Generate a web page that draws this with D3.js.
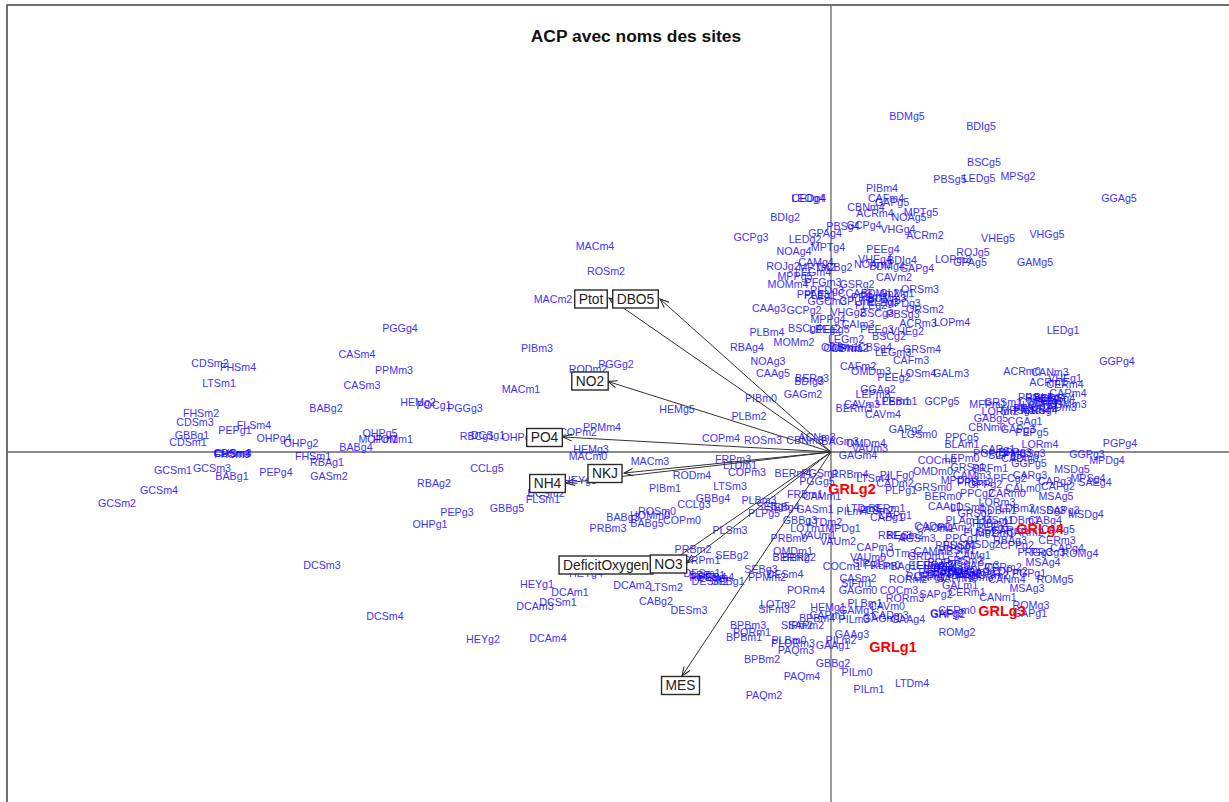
<!DOCTYPE html>
<html><head><meta charset="utf-8">
<script src="https://cdnjs.cloudflare.com/ajax/libs/d3/7.8.5/d3.min.js"></script>
<style>html,body{margin:0;padding:0;background:#fff;overflow:hidden}svg{display:block}text{font-family:"Liberation Sans",Arial,sans-serif}</style>
</head><body><svg id="c" width="1229" height="802"></svg>
<script>
const chartTitle = "ACP avec noms des sites";

const farLeftNames = ["CDSm2","FHSm4","LTSm1","FHSm2","CDSm3","GBBg1","CDSm1","PEPg1","FLSm4","OHPg4","OHPg2","CDSm4","FHSm3","CHSm3","FHSm1","RBAg1","BABg4","OHPg5","MOPm1","HOMm1","BABg2","CASm4","PPMm3","CASm3","HEMg2","POCg1","PGGg3","PGGg4","GCSm1","GCSm3","BABg1","PEPg4","GASm2","GCSm4","GCSm2","DCSm3","DCSm4"];
const farLeftX = [-6.21,-5.93,-6.12,-6.30,-6.36,-6.39,-6.43,-5.96,-5.77,-5.57,-5.30,-5.99,-5.99,-5.98,-5.18,-5.04,-4.75,-4.51,-4.53,-4.38,-5.05,-4.74,-4.37,-4.69,-4.13,-3.97,-3.66,-4.31,-6.58,-6.19,-5.99,-5.55,-5.02,-6.72,-7.14,-5.09,-4.46];
const farLeftY = [0.89,0.85,0.69,0.39,0.30,0.17,0.10,0.22,0.27,0.14,0.09,-0.01,-0.02,-0.01,-0.04,-0.10,0.05,0.19,0.13,0.13,0.44,0.98,0.82,0.67,0.50,0.47,0.44,1.24,-0.18,-0.16,-0.24,-0.20,-0.24,-0.38,-0.51,-1.13,-1.64];

const midLeftNames = ["RBAg2","PEPg3","OHPg1","RBCg1","DCSg1","OHPg3","HEYg2","DCAm4","MACm4","ROSm2","MACm2","PIBm3","RODm2","PGGg2","MACm1","HEMg5","PPMm4","COPm2","HEMg3","MACm0","MACm3","CCLg5","HEYg3","DCSm2","FLSm1","GBBg5","RODm4","PIBm1","ROSm0","HOMm0","BABg5","BABg3","COPm0","PRBm3","PRBm2","HEYg4","LTSm2","DCAm2","CABg2","DESm3","HEYg1","DCAm1","DCSm1","DCAm3","PRPm1"];
const midLeftX = [-3.97,-3.74,-4.01,-3.54,-3.43,-3.12,-3.48,-2.83,-2.36,-2.25,-2.78,-2.94,-2.43,-2.15,-3.10,-1.54,-2.29,-2.53,-2.40,-2.43,-1.81,-3.44,-2.51,-2.85,-2.88,-3.24,-1.39,-1.66,-1.74,-1.81,-1.84,-2.08,-1.49,-2.23,-1.38,-2.45,-1.65,-1.99,-1.75,-1.42,-2.94,-2.61,-2.73,-2.96,-1.29];
const midLeftY = [-0.31,-0.60,-0.72,0.16,0.17,0.15,-1.87,-1.86,2.06,1.81,1.53,1.04,0.83,0.88,0.63,0.43,0.25,0.20,0.03,-0.04,-0.09,-0.16,-0.28,-0.41,-0.47,-0.56,-0.23,-0.36,-0.59,-0.63,-0.71,-0.65,-0.68,-0.76,-0.97,-1.21,-1.35,-1.33,-1.49,-1.58,-1.32,-1.40,-1.50,-1.54,-1.08];

const centerNames = ["PLBm2","PIBm0","COPm4","ROSm3","CBNm3","ACNm3","FRPm3","LTDm1","COPm3","LTSm3","GBBg4","CCLg3","PLBm3","PLPg5","SEBg5","SEBg4","PLSm3","SEBg2","DESm1","SEBm1","RBSm4","PESm4","DESm2","SEBg1","SEBg3","PPMm2","DESm4","PORm4","OMDm1","BERm2","BERg2","PRBm0","LOTm1","GBBg3","BERm4","PGSm1","PGGg5","FRBm1","CAMm1","GASm1","VAUm1","LOTm2","SIFm3","BPBm3","PORm1","BPBm1","SIPm2","SAPm2","PLBm0","PLORm3","PAQm3","BPBm2","PAQm4","PAQm2","BPBm4","HEMg1","CAPm1","GAAg1","GBBg2"];
const centerX = [-0.82,-0.70,-1.10,-0.68,-0.26,-0.14,-0.98,-0.91,-0.84,-1.01,-1.18,-1.37,-0.72,-0.67,-0.58,-0.48,-1.01,-0.99,-1.29,-1.24,-1.23,-1.15,-1.21,-1.03,-0.70,-0.64,-0.46,-0.25,-0.38,-0.40,-0.32,-0.42,-0.23,-0.31,-0.38,-0.11,-0.14,-0.26,-0.09,-0.16,-0.13,-0.53,-0.57,-0.83,-0.79,-0.87,-0.34,-0.25,-0.42,-0.38,-0.35,-0.69,-0.29,-0.67,-0.14,-0.03,-0.03,0.02,0.02];
const centerY = [0.36,0.54,0.14,0.12,0.12,0.15,-0.07,-0.13,-0.20,-0.34,-0.46,-0.52,-0.48,-0.61,-0.54,-0.55,-0.78,-1.03,-1.21,-1.23,-1.25,-1.25,-1.29,-1.29,-1.17,-1.25,-1.22,-1.38,-0.99,-1.05,-1.05,-0.86,-0.76,-0.68,-0.21,-0.21,-0.29,-0.42,-0.44,-0.57,-0.83,-1.52,-1.57,-1.73,-1.80,-1.85,-1.73,-1.73,-1.88,-1.91,-1.98,-2.07,-2.24,-2.43,-1.66,-1.55,-1.63,-1.93,-2.11];

const lowerRightNames = ["GAGm4","PRBm4","LTSm4","PILFg0","CADm2","PLPg1","OMDm0","COCm0","LEPm0","GRSm0","BERm0","CAAg1","PILm4","LTDm3","FLSm2","BERm1","CAPg1","CABg1","LTDm2","MPDg1","VAUm2","RBEg3","RESm2","AGSm3","CADm1","CAOm1","CAPm3","VAUm0","LOTm3","CAMm2","GRDm1","COCm1","SIPg1","FRBm0","PBAg1","EERm1","CASm2","SIFm1","GAGm0","COCm3","RORm3","RORm2","SAPg2","PLBm1","CAVm0","GAMg1","CADm3","PILm3","GAGm1","GAAg4","GAAg3","PILm2","PILm0","PILm1","LTDm4","GAFg2","GHPg2","CERm0","ROMg2"];
const lowerRightX = [0.27,0.19,0.42,0.66,0.64,0.70,1.02,1.06,1.31,1.02,1.12,1.14,0.21,0.32,0.46,0.56,0.64,0.56,-0.06,0.12,0.07,0.64,0.74,0.86,1.02,1.04,0.44,0.37,0.67,1.02,0.96,0.11,0.36,0.51,0.69,0.96,0.27,0.26,0.27,0.68,0.74,0.77,1.05,0.34,0.56,0.26,0.59,0.23,0.51,0.77,0.21,0.10,0.26,0.38,0.81,1.16,1.17,1.26,1.26];
const lowerRightY = [-0.03,-0.22,-0.26,-0.23,-0.31,-0.38,-0.19,-0.08,-0.06,-0.35,-0.44,-0.54,-0.59,-0.56,-0.58,-0.56,-0.63,-0.65,-0.70,-0.76,-0.89,-0.83,-0.83,-0.86,-0.74,-0.76,-0.95,-1.05,-1.01,-0.99,-1.04,-1.14,-1.11,-1.13,-1.14,-1.13,-1.26,-1.31,-1.38,-1.38,-1.46,-1.27,-1.42,-1.51,-1.54,-1.58,-1.63,-1.67,-1.66,-1.67,-1.82,-1.88,-2.20,-2.37,-2.31,-1.61,-1.62,-1.58,-1.80];

const denseNames = ["CAMg1","PRSm1","PORg3","PRCg1","FRSm2","EERm3","FRBm3","RORm1","PEBg1","MPDm2","CAMg2","CHAm1","SAPg1","SAPm1","LEPg1","PRDm3","SOCm2","LDPm2","FUSg1","PPCg1","PPSg2","GALm1","CERm1","CERm2","CANm4","CANm1","MSAg3","ROMg3","GAPg1","PGPg1","ROMg5","MSAg4","ROMg4","CAPg4","PRGg3","PRCg3","CERm3","MSDg2","CPPg2","RBAg3","PEEg1","FUSg2","MPDm1","CARm2","CARm1","PLAm1","LMSm1","LDBm1","LDSm1","LORm3","RDBm1","LDBm2","MSDg3","SAPg3","MSDg4","CABg4","CAPg5","PPCg2","CARm0","MSAg5","CALm0","CAPg3","CAPg2","PFCg2","CARg3","MPSg4","SAEg4","MSDg5","GGPg5","MPDg4","GGPg3","PGPg4","LORm4","GRSg1","PRFm1","CAMm3","PPBm2","GPPg2","MPDm3","CARg1","PGFg3","SCPg3","BPPg3","MSSg3","CADm0","FRBm2","PLAm2","GRSg2","LEPm1","PEBm2","FRBg2","SAPm3"];
const denseX = [1.42,1.26,1.14,1.24,1.34,1.04,1.14,0.94,1.04,1.19,1.31,1.41,1.54,1.24,0.99,1.44,1.59,1.79,1.29,1.31,1.21,1.29,1.36,1.72,1.76,1.67,1.96,2.00,1.99,1.98,2.24,2.12,2.49,2.36,2.04,2.17,2.26,1.52,1.86,1.79,1.62,1.49,1.64,1.94,1.79,1.32,1.64,1.91,1.37,1.66,1.67,1.86,2.17,2.32,2.55,2.14,2.27,1.46,1.76,2.25,1.92,2.24,2.27,1.79,1.99,2.57,2.64,2.41,1.98,2.76,2.56,2.89,2.09,1.37,1.59,1.41,1.44,1.54,1.29,1.67,1.59,1.74,1.84,1.97,1.89,1.59,1.24,1.44,1.10,1.20,1.34,1.50];
const denseY = [-1.03,-0.98,-1.10,-1.14,-1.08,-1.13,-1.18,-1.24,-1.20,-1.22,-1.21,-1.19,-1.20,-1.26,-1.25,-1.25,-1.23,-1.19,-0.93,-0.86,-0.93,-1.33,-1.40,-1.15,-1.27,-1.45,-1.36,-1.53,-1.61,-1.21,-1.27,-1.10,-1.01,-0.96,-1.00,-1.00,-0.88,-0.92,-0.93,-0.88,-0.75,-0.80,-0.81,-0.80,-0.78,-0.68,-0.68,-0.68,-0.55,-0.50,-0.58,-0.56,-0.58,-0.58,-0.62,-0.68,-0.77,-0.41,-0.41,-0.44,-0.36,-0.29,-0.34,-0.26,-0.23,-0.26,-0.30,-0.17,-0.11,-0.08,-0.02,0.09,0.08,-0.15,-0.16,-0.23,-0.30,-0.32,-0.28,0.03,-0.01,-0.03,0.00,-0.01,-0.06,-0.71,-0.75,-0.61,-1.16,-1.18,-1.22,-1.13];

const upperNames = ["BDMg5","BDIg5","BSCg5","LEDg5","PBSg5","MPSg2","GGAg5","VHEg5","VHGg5","GAMg5","LEDg1","GGPg4","PIBm4","CAFm4","GAPg5","LEOg4","CEDg4","CBNm4","ACRm4","MPTg5","NOAg5","PBSg4","GCPg4","VHGg4","GPAg4","ACRm2","BDIg2","LEDg2","MPTg4","NOAg4","GCPg3","PEEg4","ROJg5","LOPm3","GPAg5","VHEg4","BDIg4","CAMg4","ROJg2","MPTm2","GCBg2","NOAm2","BDMg4","GAPg4","LEGm4","MPPg5","MOMm4","CAVm2","ORSm3","PFGm3","GSRg2","PEDg3","PPAg3","PLEg1","CCAg3","BDMm2","GLMg1","GGCm3","CPLm1","PLEg3","MPDg3","PEEm3","BDMm3","PLEg2"];
const upperX = [0.76,1.50,1.53,1.48,1.19,1.87,2.88,1.67,2.16,2.04,2.32,2.86,0.51,0.55,0.61,-0.23,-0.22,0.35,0.44,0.90,0.78,0.12,0.33,0.67,-0.06,0.94,-0.46,-0.26,-0.03,-0.37,-0.80,0.52,1.42,1.22,1.39,0.44,0.71,-0.15,-0.48,-0.14,0.04,0.42,0.56,0.86,-0.18,-0.36,-0.43,0.63,0.89,-0.08,0.26,-0.04,-0.18,-0.11,0.24,0.49,0.66,-0.04,0.26,0.52,0.72,0.38,0.56,0.40];
const upperY = [3.36,3.26,2.90,2.74,2.73,2.76,2.54,2.14,2.18,1.90,1.22,0.91,2.64,2.54,2.50,2.54,2.54,2.45,2.39,2.40,2.35,2.26,2.27,2.23,2.19,2.17,2.35,2.13,2.05,2.01,2.15,2.03,2.00,1.93,1.90,1.93,1.92,1.90,1.86,1.85,1.85,1.88,1.86,1.84,1.80,1.76,1.68,1.75,1.63,1.70,1.68,1.62,1.58,1.57,1.59,1.59,1.59,1.51,1.51,1.50,1.49,1.55,1.54,1.47];

const axisRightNames = ["CAAg3","GCPg2","ORSm2","VHGg2","BSCg3","PBSg3","ACRm3","LOPm4","MPPg4","BSCg4","PEEg5","LEEg2","CAIm3","PEEg3","VHEg2","BSCg2","LEGm2","PLBm4","RBAg4","MOMm2","ODBm1","OMPm1","CBNm2","CBSg4","LEGm3","GRSm4","CAFm3","NOAg3","CAAg5","BERg3","BDIg3","GAGm2","CAFm2","OMDm3","PEEg2","LOSm4","GALm3","GGAg2","LEPm3","CAVm3","LPBm1","LEBm1","BERm3","CAVm4","GAPg2","LGSm0","BAGm3","OMDm4","VAUm3","GCPg5","PPCg5","BLAm1"];
const axisRightX = [-0.62,-0.27,0.94,0.17,0.46,0.72,0.87,1.21,-0.03,-0.26,0.02,-0.06,0.27,0.46,0.76,0.58,0.15,-0.64,-0.84,-0.37,0.09,0.12,0.19,0.44,0.62,0.91,0.80,-0.63,-0.58,-0.19,-0.22,-0.28,0.27,0.40,0.63,0.87,1.20,0.47,0.42,0.31,0.62,0.69,0.23,0.52,0.75,0.88,0.09,0.35,0.39,1.11,1.31,1.31];
const axisRightY = [1.44,1.42,1.43,1.40,1.39,1.38,1.29,1.30,1.33,1.24,1.23,1.23,1.28,1.23,1.21,1.16,1.13,1.20,1.05,1.10,1.05,1.04,1.04,1.05,1.00,1.03,0.92,0.91,0.79,0.74,0.71,0.58,0.86,0.81,0.75,0.79,0.79,0.63,0.58,0.48,0.51,0.51,0.44,0.38,0.23,0.18,0.11,0.09,0.04,0.51,0.15,0.08];

const upperRightNames = ["ACRm0","CANm3","ACRm1","VHEg1","CERm4","CARm4","PRSg4","PRBg4","BLPg4","CRSg4","MPTg1","CCDm4","CDMm3","CADm3","LOPm1","FRSg1","PRSm4","MPSg1","GRSg4","GRSm1","MFPm1","LORm2","GABg5","CGAg1","CBNm0","GAPg3","PEPg5"];
const upperRightX = [1.91,2.19,2.17,2.34,2.34,2.37,2.04,2.11,2.19,2.27,2.15,2.07,2.36,2.27,2.09,1.99,2.01,1.87,2.09,1.72,1.57,1.69,1.60,1.94,1.56,1.87,2.01];
const upperRightY = [0.81,0.80,0.70,0.74,0.68,0.59,0.55,0.54,0.55,0.54,0.51,0.50,0.48,0.45,0.47,0.44,0.42,0.42,0.42,0.50,0.48,0.41,0.34,0.31,0.25,0.23,0.20];

const highlightNames = ["GRLg2","GRLg4","GRLg3","GRLg1"];
const highlightX = [0.21,2.09,1.71,0.62];
const highlightY = [-0.37,-0.77,-1.59,-1.95];

const variableNames = ["Ptot","DBO5","NO2","PO4","NKJ","NH4","DeficitOxygen","NO3","MES"];
const arrowX = [-2.22,-1.71,-2.23,-2.68,-2.07,-2.65,-1.65,-1.44,-1.49];
const arrowY = [1.54,1.53,0.705,0.15,-0.21,-0.31,-1.13,-1.11,-2.24];
const boxX = [-2.40,-1.955,-2.41,-2.865,-2.26,-2.835,-2.25,-1.625,-1.505];
const boxY = [1.53,1.53,0.71,0.145,-0.215,-0.315,-1.13,-1.12,-2.335];

const W = 1229, H = 802;
const x = d3.scaleLinear().domain([-8.31, 3.98]).range([0, W]);
const y = d3.scaleLinear().domain([4.52, -3.50]).range([0, H]);
const svg = d3.select("#c");

svg.append("rect").attr("x", x(-8.24)).attr("y", y(4.47)).attr("width", W).attr("height", H)
  .attr("fill", "#fff").attr("stroke", "#333").attr("stroke-width", 1.4);

svg.append("line").attr("x1", x(-8.24)).attr("x2", W).attr("y1", y(0)).attr("y2", y(0)).attr("stroke", "#666").attr("stroke-width", 1.3);
svg.append("line").attr("x1", x(0)).attr("x2", x(0)).attr("y1", y(4.47)).attr("y2", H).attr("stroke", "#666").attr("stroke-width", 1.3);

const groups = [
  [farLeftNames, farLeftX, farLeftY],
  [midLeftNames, midLeftX, midLeftY],
  [centerNames, centerX, centerY],
  [lowerRightNames, lowerRightX, lowerRightY],
  [denseNames, denseX, denseY],
  [upperNames, upperX, upperY],
  [axisRightNames, axisRightX, axisRightY],
  [upperRightNames, upperRightX, upperRightY]
];
const sites = groups.flatMap(([n, xs, ys]) => n.map((name, i) => ({name, x: xs[i], y: ys[i]})));

svg.append("g").selectAll("text").data(sites).join("text")
  .attr("x", d => x(d.x)).attr("y", d => y(d.y)).attr("dy", "0.36em")
  .attr("text-anchor", "middle").attr("font-size", 10.7)
  .attr("fill", "#1000ff").attr("fill-opacity", 0.8)
  .attr("stroke", "#1000ff").attr("stroke-opacity", 0.35).attr("stroke-width", 0.2).text(d => d.name);

const defs = svg.append("defs");
defs.append("marker").attr("id", "head").attr("viewBox", "-10 -5 11 10").attr("refX", 0).attr("refY", 0)
  .attr("markerUnits", "userSpaceOnUse").attr("markerWidth", 11).attr("markerHeight", 10).attr("orient", "auto")
  .append("path").attr("d", "M-9,-3.6L0,0L-9,3.6").attr("fill", "none").attr("stroke", "#222").attr("stroke-width", 1);

const variables = variableNames.map((name, i) => ({name, ax: arrowX[i], ay: arrowY[i], bx: boxX[i], by: boxY[i]}));

svg.append("g").selectAll("line").data(variables).join("line")
  .attr("x1", x(0)).attr("y1", y(0)).attr("x2", d => x(d.ax)).attr("y2", d => y(d.ay))
  .attr("stroke", "#333").attr("stroke-width", 1).attr("marker-end", "url(#head)");

const boxes = svg.append("g").selectAll("g").data(variables).join("g");
const boxRect = boxes.append("rect").attr("fill", "#fff").attr("stroke", "#2a2a2a").attr("stroke-width", 1.4);
const boxText = boxes.append("text").attr("x", d => x(d.bx)).attr("y", d => y(d.by)).attr("dy", "0.36em")
  .attr("text-anchor", "middle").attr("font-size", 13.8).attr("fill", "#222").text(d => d.name);
boxText.each(function(d, i) {
  const w = this.getComputedTextLength() + 8;
  d3.select(boxRect.nodes()[i]).attr("x", x(d.bx) - w / 2).attr("y", y(d.by) - 9).attr("width", w).attr("height", 18);
});

const highlights = highlightNames.map((name, i) => ({name, x: highlightX[i], y: highlightY[i]}));
svg.append("g").selectAll("text").data(highlights).join("text")
  .attr("x", d => x(d.x)).attr("y", d => y(d.y)).attr("dy", "0.36em")
  .attr("text-anchor", "middle").attr("font-size", 14.5).attr("font-weight", "bold")
  .attr("fill", "#ff0000").text(d => d.name);

svg.append("text").attr("x", 636).attr("y", 42).attr("text-anchor", "middle")
  .attr("font-size", 17.4).attr("font-weight", "bold").attr("fill", "#111").text(chartTitle);
</script></body></html>
